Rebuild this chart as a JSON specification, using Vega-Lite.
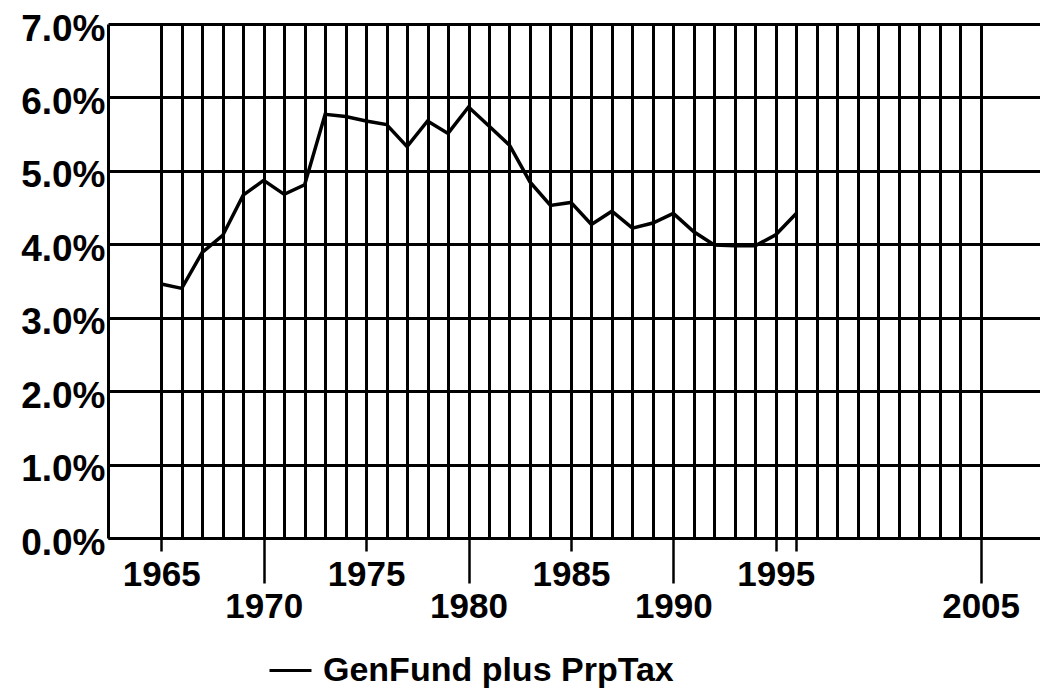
{
  "$schema": "https://vega.github.io/schema/vega-lite/v6.json",
  "autosize": {"type": "none"},
  "width": 932,
  "height": 514,
  "padding": {"top": 24, "left": 108, "right": 0, "bottom": 153},
  "background": "white",
  "config": {
    "view": {"stroke": null},
    "font": "Liberation Sans"
  },
  "data": {
    "values": [
      {"year": 1965, "series": "GenFund plus PrpTax", "pct": 3.46},
      {"year": 1966, "series": "GenFund plus PrpTax", "pct": 3.40},
      {"year": 1967, "series": "GenFund plus PrpTax", "pct": 3.89},
      {"year": 1968, "series": "GenFund plus PrpTax", "pct": 4.12},
      {"year": 1969, "series": "GenFund plus PrpTax", "pct": 4.67},
      {"year": 1970, "series": "GenFund plus PrpTax", "pct": 4.87},
      {"year": 1971, "series": "GenFund plus PrpTax", "pct": 4.68},
      {"year": 1972, "series": "GenFund plus PrpTax", "pct": 4.81},
      {"year": 1973, "series": "GenFund plus PrpTax", "pct": 5.77},
      {"year": 1974, "series": "GenFund plus PrpTax", "pct": 5.74},
      {"year": 1975, "series": "GenFund plus PrpTax", "pct": 5.68},
      {"year": 1976, "series": "GenFund plus PrpTax", "pct": 5.63},
      {"year": 1977, "series": "GenFund plus PrpTax", "pct": 5.33},
      {"year": 1978, "series": "GenFund plus PrpTax", "pct": 5.68},
      {"year": 1979, "series": "GenFund plus PrpTax", "pct": 5.51},
      {"year": 1980, "series": "GenFund plus PrpTax", "pct": 5.87},
      {"year": 1981, "series": "GenFund plus PrpTax", "pct": 5.61},
      {"year": 1982, "series": "GenFund plus PrpTax", "pct": 5.35},
      {"year": 1983, "series": "GenFund plus PrpTax", "pct": 4.85},
      {"year": 1984, "series": "GenFund plus PrpTax", "pct": 4.53},
      {"year": 1985, "series": "GenFund plus PrpTax", "pct": 4.57},
      {"year": 1986, "series": "GenFund plus PrpTax", "pct": 4.27},
      {"year": 1987, "series": "GenFund plus PrpTax", "pct": 4.45},
      {"year": 1988, "series": "GenFund plus PrpTax", "pct": 4.22},
      {"year": 1989, "series": "GenFund plus PrpTax", "pct": 4.29},
      {"year": 1990, "series": "GenFund plus PrpTax", "pct": 4.42},
      {"year": 1991, "series": "GenFund plus PrpTax", "pct": 4.17},
      {"year": 1992, "series": "GenFund plus PrpTax", "pct": 3.99},
      {"year": 1993, "series": "GenFund plus PrpTax", "pct": 3.98},
      {"year": 1994, "series": "GenFund plus PrpTax", "pct": 3.98},
      {"year": 1995, "series": "GenFund plus PrpTax", "pct": 4.13},
      {"year": 1996, "series": "GenFund plus PrpTax", "pct": 4.42}
    ]
  },
  "mark": {"type": "line", "strokeWidth": 3.5, "clip": true},
  "encoding": {
    "x": {
      "field": "year",
      "type": "quantitative",
      "scale": {"domain": [1962.4, 2007.9], "nice": false, "zero": false},
      "axis": {
        "title": null,
        "values": [1965,1966,1967,1968,1969,1970,1971,1972,1973,1974,1975,1976,1977,1978,1979,1980,1981,1982,1983,1984,1985,1986,1987,1988,1989,1990,1991,1992,1993,1994,1995,1996,1997,1998,1999,2000,2001,2002,2003,2004,2005],
        "grid": true,
        "gridColor": "black",
        "gridWidth": 3,
        "gridOpacity": 1,
        "domainColor": "black",
        "domainWidth": 3,
        "tickColor": "black",
        "tickWidth": 2.5,
        "tickOpacity": {"condition": {"test": "indexof([1965,1970,1975,1980,1985,1990,1995,1996,2005], datum.value) >= 0", "value": 1}, "value": 0},
        "tickSize": {"condition": {"test": "indexof([1970,1980,1990,2005], datum.value) >= 0", "value": 45}, "value": 13},
        "labelExpr": "indexof([1965,1970,1975,1980,1985,1990,1995,2005], datum.value) >= 0 ? '' + datum.value : ''",
        "labelPadding": 6,
        "labelBaseline": "top",
        "labelFlush": false,
        "labelOverlap": false,
        "labelBound": false,
        "labelFont": "Liberation Sans",
        "labelFontWeight": "bold",
        "labelFontSize": 35,
        "labelColor": "black"
      }
    },
    "y": {
      "field": "pct",
      "type": "quantitative",
      "scale": {"domain": [0, 7], "nice": false},
      "axis": {
        "title": null,
        "values": [0,1,2,3,4,5,6,7],
        "grid": true,
        "gridColor": "black",
        "gridWidth": 3,
        "gridOpacity": 1,
        "domainColor": "black",
        "domainWidth": 3,
        "ticks": false,
        "labelPadding": 3,
        "labelOffset": 5,
        "labelExpr": "format(datum.value, '.1f') + '%'",
        "labelFont": "Liberation Sans",
        "labelFontWeight": "bold",
        "labelFontSize": 37,
        "labelColor": "black",
        "labelFlush": false,
        "labelOverlap": false,
        "labelBound": false
      }
    },
    "color": {
      "field": "series",
      "type": "nominal",
      "scale": {"range": ["black"]},
      "legend": {
        "title": null,
        "orient": "none",
        "legendX": 160,
        "legendY": 624,
        "padding": 0,
        "symbolType": "stroke",
        "symbolSize": 1764,
        "symbolStrokeWidth": 3,
        "symbolStrokeColor": "black",
        "labelFont": "Liberation Sans",
        "labelFontWeight": "bold",
        "labelFontSize": 34,
        "labelColor": "black",
        "labelOffset": 10,
        "labelLimit": 600
      }
    }
  }
}
